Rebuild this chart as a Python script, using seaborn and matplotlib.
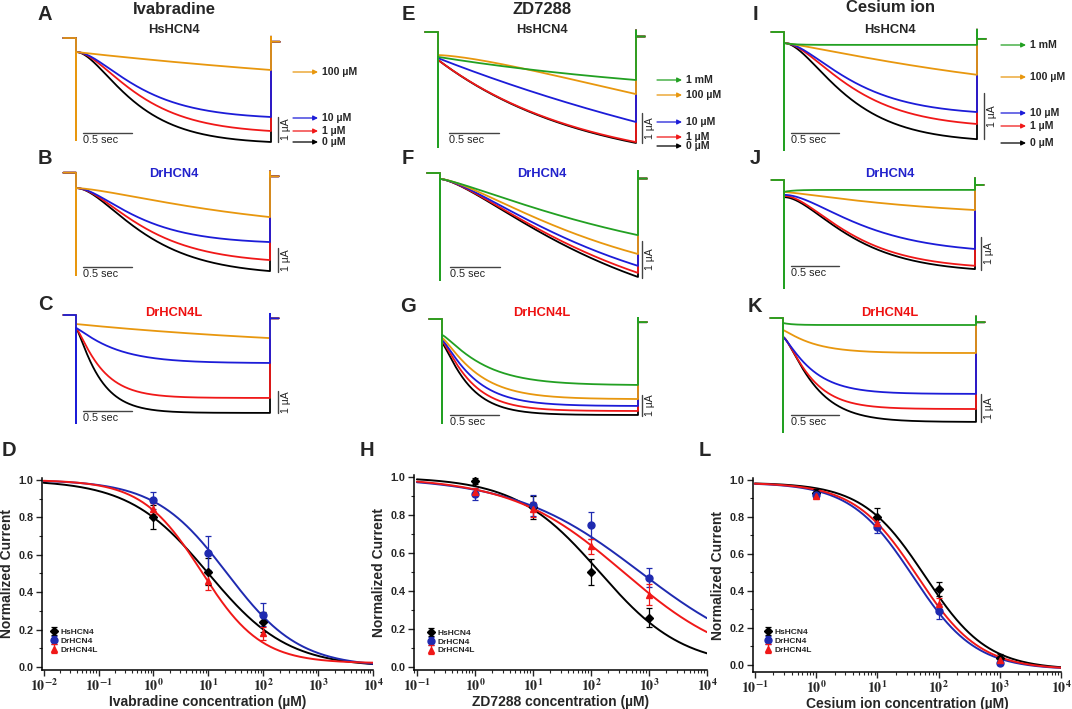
import numpy as np
import pandas as pd
import seaborn as sns
import matplotlib.pyplot as plt
from matplotlib.ticker import FixedLocator, FuncFormatter, MultipleLocator

sns.set_style('ticks')
plt.rcParams['font.family'] = ['Liberation Sans', 'DejaVu Sans']
plt.rcParams['mathtext.fontset'] = 'stix'

# ---------------- data: current traces (µA) ----------------
T_PULSE = 2.0
concs3 = ['0 µM', '1 µM', '10 µM', '100 µM']
concs4 = ['0 µM', '1 µM', '10 µM', '100 µM', '1 mM']
trace_colors = ['black', '#f01818', '#1c1cd8', '#e8970e', '#22a022']

# instantaneous current, current at end of the pulse, time constant, power
A_i0 = [0.56, 0.56, 0.56, 0.56]
A_end = [4.16, 3.72, 3.16, 1.28]
A_tau = [0.45, 0.5, 0.5, 5.0]
A_n = [2, 2, 2, 1]

B_i0 = [0.64, 0.64, 0.64, 0.64]
B_end = [4.1, 3.64, 2.89, 1.85]
B_tau = [0.55, 0.55, 0.5, 1.5]
B_n = [2, 2, 2, 1.5]

C_i0 = [0.59, 0.59, 0.59, 0.41]
C_end = [4.45, 3.77, 2.18, 1.05]
C_tau = [0.22, 0.24, 0.38, 3.0]
C_n = [1.3, 1.3, 1.2, 1]

E_i0 = [0.93, 0.93, 0.87, 0.77, 0.83]
E_end = [3.7, 3.67, 3.0, 2.07, 1.6]
E_tau = [1.5, 1.5, 5.0, 4.0, 3.0]
E_n = [1, 1, 1, 1.5, 1]

F_i0 = [0.16, 0.16, 0.16, 0.16, 0.16]
F_end = [2.81, 2.7, 2.51, 2.19, 1.68]
F_tau = [1.5, 1.5, 1.5, 1.5, 2.0]
F_n = [1.5, 1.5, 1.5, 1.5, 1.3]

G_i0 = [1.14, 1.05, 1.0, 0.9, 0.76]
G_end = [4.57, 4.38, 4.14, 3.81, 3.14]
G_tau = [0.25, 0.27, 0.3, 0.33, 0.38]
G_n = [1.3, 1.3, 1.3, 1.3, 1.3]

I_i0 = [0.24, 0.24, 0.24, 0.24, 0.24]
I_end = [2.33, 2.0, 1.74, 0.93, 0.28]
I_tau = [0.5, 0.55, 0.55, 2.5, 0.1]
I_n = [2, 2, 2, 1.2, 1]

J_i0 = [0.52, 0.48, 0.45, 0.36, 0.36]
J_end = [2.7, 2.6, 2.09, 0.91, 0.3]
J_tau = [0.55, 0.55, 0.65, 1.5, 0.1]
J_n = [2, 2, 2, 1.2, 1]

K_i0 = [0.68, 0.68, 0.68, 0.43, 0.18]
K_end = [3.71, 3.25, 2.71, 1.25, 0.25]
K_tau = [0.28, 0.25, 0.28, 0.3, 0.1]
K_n = [1.5, 1.5, 1.3, 1.2, 1]

# ---------------- data: dose response ----------------
genes = ['HsHCN4', 'DrHCN4', 'DrHCN4L']
gene_colors = ['black', '#1f2ab0', '#f01818']
gene_markers = ['D', 'o', '^']

ivab_conc = [1, 10, 100]
ivab_mean = [[0.80, 0.51, 0.24], [0.89, 0.61, 0.28], [0.845, 0.46, 0.18]]
ivab_sem = [[0.065, 0.07, 0.055], [0.045, 0.09, 0.06], [0.03, 0.05, 0.035]]
ivab_ic50 = [10, 22, 7.5]
ivab_nh = [0.6, 0.66, 0.8]
ivab_bottom = [0.0, 0.0, 0.02]

zd_conc = [1, 10, 100, 1000]
zd_mean = [[0.98, 0.84, 0.50, 0.26], [0.91, 0.85, 0.745, 0.47], [0.92, 0.83, 0.635, 0.38]]
zd_sem = [[0.015, 0.06, 0.07, 0.05], [0.03, 0.055, 0.07, 0.05], [0.02, 0.04, 0.04, 0.055]]
zd_ic50 = [140, 700, 360]
zd_nh = [0.6, 0.4, 0.45]
zd_bottom = [0.0, 0.0, 0.0]

cs_conc = [1, 10, 100, 1000]
cs_mean = [[0.93, 0.80, 0.41, 0.04], [0.92, 0.745, 0.29, 0.01], [0.915, 0.765, 0.33, 0.025]]
cs_sem = [[0.02, 0.05, 0.04, 0.02], [0.02, 0.03, 0.04, 0.01], [0.015, 0.03, 0.03, 0.015]]
cs_ic50 = [60, 38, 45]
cs_nh = [0.85, 0.85, 0.85]
cs_bottom = [-0.025, -0.025, -0.025]
cs_top = 0.985

# ---------------- figure ----------------
W, H = 1072, 709
fig = plt.figure(figsize=(W / 100, H / 100), dpi=100)
ov = fig.add_axes([0, 0, 1, 1], zorder=5)
ov.set_xlim(0, W)
ov.set_ylim(H, 0)
ov.axis('off')


def px_axes(x0, y0, x1, y1):
    return fig.add_axes([x0 / W, 1 - y1 / H, (x1 - x0) / W, (y1 - y0) / H])


def draw_traces(geom, i0, iend, tau, n, order, labels=None, lab_x=None, lab_y=None):
    xs, xe, yh, ppu, ysp, sbx, sby, ubx, uby = geom
    pps = (xe - xs) / T_PULSE
    left, right, top, bot = xs - 16, xe + 14, yh - 14, ysp + 3
    ax = px_axes(left, top, right, bot)
    ax.set_xlim((left - xs) / pps, (right - xs) / pps)
    ax.set_ylim(-(bot - yh) / ppu, (yh - top) / ppu)
    ax.axis('off')
    spike = (ysp - yh) / ppu
    t = np.linspace(0, T_PULSE, 300)
    for k in order:
        f = (1 - np.exp(-t / tau[k])) ** n[k]
        cur = -(i0[k] + (iend[k] - i0[k]) * f / f[-1])
        tx = np.r_[-0.13, 0, 0, 0, t, T_PULSE, T_PULSE, T_PULSE + 0.09]
        ty = np.r_[0, 0, -spike, -i0[k], cur, 0.05, -0.15, -0.15]
        sns.lineplot(x=tx, y=ty, sort=False, estimator=None, color=trace_colors[k],
                     lw=1.3, ax=ax)
    ax.set_xlabel('')
    ax.set_ylabel('')
    # scale bars
    ov.plot([sbx, sbx + 0.5 * pps], [sby, sby], color='#444444', lw=1)
    ov.text(sbx, sby + 2, '0.5 sec', fontsize=7.8, va='top', ha='left', color='#222222')
    ov.plot([ubx, ubx], [uby, uby - ppu], color='#444444', lw=1)
    ov.text(ubx + 3, uby - ppu / 2, '1 µA', fontsize=7.5, rotation=90, va='center',
            ha='left', color='#222222')
    if labels is not None:
        for k, lab in enumerate(labels):
            ov.annotate('', xy=(lab_x + 25, lab_y[k]), xytext=(lab_x, lab_y[k]),
                        arrowprops=dict(arrowstyle='-|>', color=trace_colors[k], lw=0.9,
                                        mutation_scale=7, shrinkA=0, shrinkB=0))
            ov.text(lab_x + 29, lab_y[k], lab, fontsize=7.6, weight='bold', va='center',
                    ha='left')


order4 = [0, 1, 2, 3]
order5 = [0, 1, 2, 3, 4]

draw_traces((76, 271, 38, 25, 140, 83, 133, 278, 142), A_i0, A_end, A_tau, A_n, order4,
            concs3, 293, [142, 131, 118, 72])
draw_traces((76, 270, 172.7, 24, 275, 83, 267, 278, 272), B_i0, B_end, B_tau, B_n, order4)
draw_traces((76, 270, 315, 22, 423, 83, 411, 278, 413), C_i0, C_end, C_tau, C_n, [0, 1, 3, 2])
draw_traces((438, 636, 32, 30, 147, 449, 133, 642, 143), E_i0, E_end, E_tau, E_n, order5,
            concs4, 657, [146, 137, 122, 95, 80])
draw_traces((440, 638, 173, 37, 280, 450, 267, 642, 278), F_i0, F_end, F_tau, F_n, order5)
draw_traces((442, 638, 319, 21, 423, 450, 415, 642, 416), G_i0, G_end, G_tau, G_n, order5)
draw_traces((784, 977, 32, 46, 150, 791, 133, 984, 139), I_i0, I_end, I_tau, I_n, order5,
            concs4, 1001, [143, 126, 113, 77, 45])
draw_traces((784, 975, 180, 33, 288, 791, 266, 981, 270), J_i0, J_end, J_tau, J_n, order5)
draw_traces((783, 976, 318, 28, 432, 791, 415, 981, 422), K_i0, K_end, K_tau, K_n, order5)

# titles and panel letters
for x, y, s in [(174, 10, 'Ivabradine'), (542, 9, 'ZD7288'), (890, 8, 'Cesium ion')]:
    ov.text(x, y, s, fontsize=12, weight='bold', ha='center', va='center')
for x in [174, 542, 890]:
    ov.text(x, 30, 'HsHCN4', fontsize=9.3, weight='bold', ha='center', va='center')
    ov.text(x, 174, 'DrHCN4', fontsize=9.3, weight='bold', ha='center', va='center', color='#2222cc')
    ov.text(x, 313, 'DrHCN4L', fontsize=9.3, weight='bold', ha='center', va='center', color='#ee1111')
for x, y, s in [(45, 14, 'A'), (45, 158, 'B'), (45, 305, 'C'), (9, 450, 'D'),
                (408, 14, 'E'), (408, 159, 'F'), (408, 307, 'G'), (367, 450, 'H'),
                (755, 14, 'I'), (755, 158, 'J'), (755, 307, 'K'), (705, 450, 'L')]:
    ov.text(x, y, s, fontsize=14.5, weight='bold', ha='center', va='center')


# ---------------- dose response panels ----------------
def hill(x, ic50, nh, bottom, top=1.0):
    return bottom + (top - bottom) / (1 + (x / ic50) ** nh)


def dose_panel(rect, ylim, xlo, decades, conc, means, sems, ic50, nh, bottom, top, xlabel, leg_xy):
    ax = px_axes(*rect)
    xs = np.logspace(decades[0], decades[-1], 300)
    for g in range(3):
        sns.lineplot(x=xs, y=hill(xs, ic50[g], nh[g], bottom[g], top), color=gene_colors[g],
                     lw=1.4, ax=ax)
    for g in range(3):
        ax.errorbar(conc, means[g], yerr=sems[g], fmt=gene_markers[g], color=gene_colors[g],
                    ms=5 if g else 4.5, capsize=2, elinewidth=0.9, capthick=0.9,
                    label=genes[g], zorder=3)
    ax.set_xscale('log')
    ax.set_xlim(10 ** xlo, 10 ** decades[-1])
    ax.set_ylim(*ylim)
    ax.xaxis.set_major_locator(FixedLocator([10.0 ** d for d in decades]))
    ax.xaxis.set_major_formatter(FuncFormatter(lambda v, p: r'$\mathbf{10^{%d}}$' % round(np.log10(v))))
    ax.set_yticks([0, 0.2, 0.4, 0.6, 0.8, 1.0])
    ax.yaxis.set_major_formatter(FuncFormatter(lambda v, p: '%.1f' % v))
    ax.yaxis.set_minor_locator(MultipleLocator(0.1))
    ax.tick_params(which='major', direction='out', length=4, width=1, labelsize=7.8, pad=2)
    ax.tick_params(which='minor', direction='out', length=2.5, width=0.8)
    ax.tick_params(axis='x', labelsize=10, pad=1)
    for lab in ax.get_yticklabels():
        lab.set_fontweight('bold')
    for s in ['top', 'right']:
        ax.spines[s].set_visible(False)
    for s in ['left', 'bottom']:
        ax.spines[s].set_linewidth(1.1)
        ax.spines[s].set_color('black')
    ax.set_xlabel(xlabel, fontsize=10, weight='bold', labelpad=1)
    ax.set_ylabel('Normalized Current', fontsize=10, weight='bold', labelpad=3)
    ax.legend(loc='upper left', bbox_to_anchor=leg_xy, bbox_transform=ov.transData,
              frameon=False, prop={'size': 6, 'weight': 'bold'}, handlelength=1.0,
              handletextpad=0.3, labelspacing=0.12, borderpad=0, borderaxespad=0)
    return ax


dose_panel((42, 478, 373, 670), (-0.016, 1.01), -2.03, [-2, -1, 0, 1, 2, 3, 4], ivab_conc,
           ivab_mean, ivab_sem, ivab_ic50, ivab_nh, ivab_bottom, 1.0,
           'Ivabradine concentration (µM)', (50, 628))
dose_panel((414, 475, 707, 670), (-0.016, 1.01), -1.05, [-1, 0, 1, 2, 3, 4], zd_conc,
           zd_mean, zd_sem, zd_ic50, zd_nh, zd_bottom, 1.0,
           'ZD7288 concentration (µM)', (427, 629))
dose_panel((753, 478, 1061, 672), (-0.038, 1.01), -1.03, [-1, 0, 1, 2, 3, 4], cs_conc,
           cs_mean, cs_sem, cs_ic50, cs_nh, cs_bottom, cs_top,
           'Cesium ion concentration (µM)', (764, 628))

fig.savefig('out.png', dpi=100)
